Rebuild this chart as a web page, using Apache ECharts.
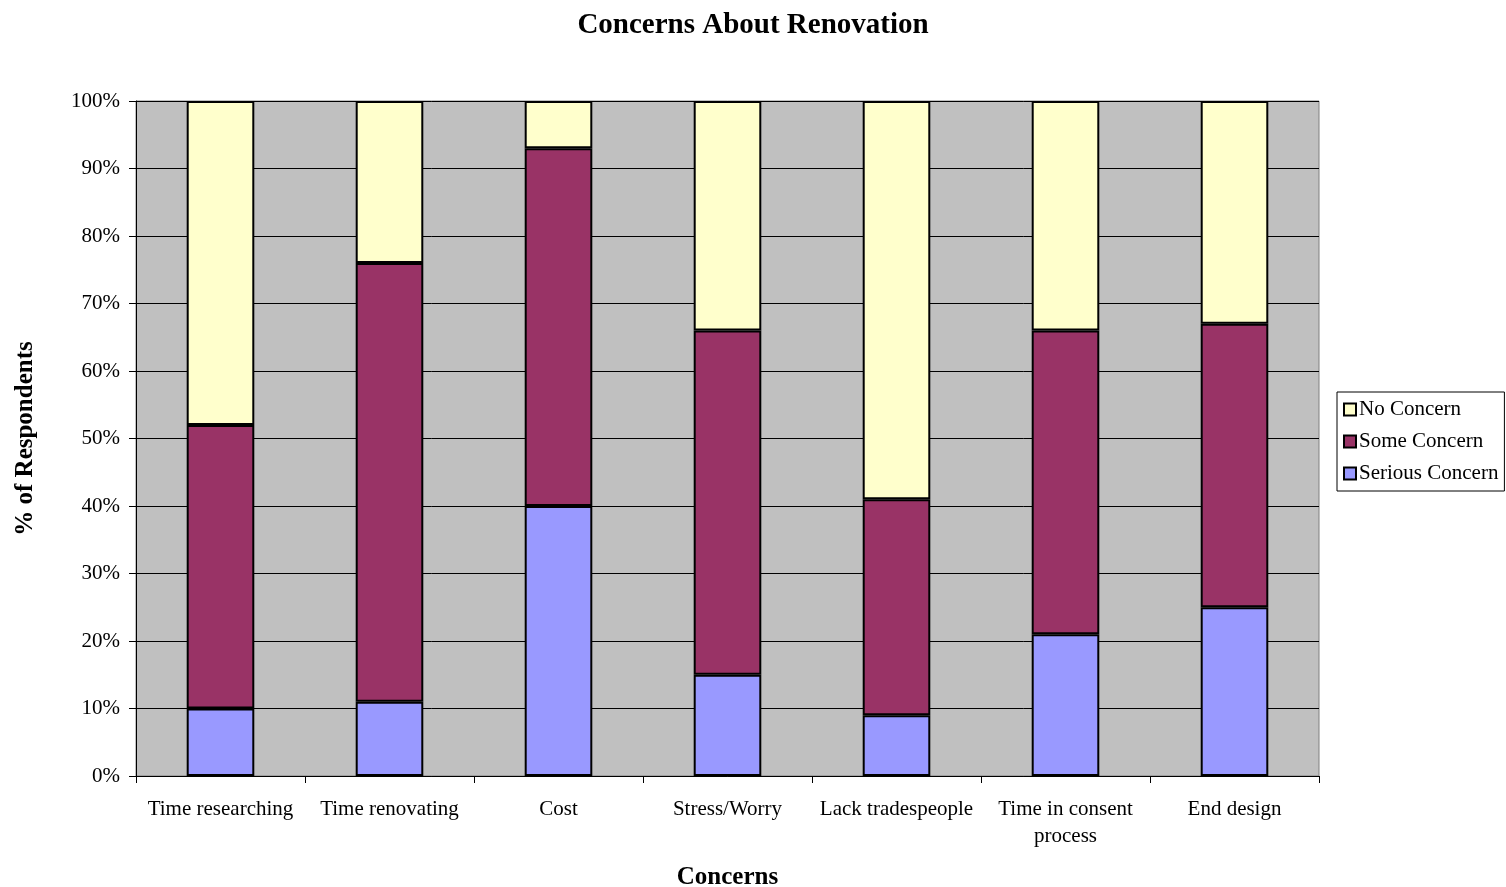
<!DOCTYPE html>
<html><head><meta charset="utf-8">
<script src="https://cdn.jsdelivr.net/npm/echarts@6/dist/echarts.min.js"></script>
<style>html,body{margin:0;padding:0;background:#fff}#c{width:1506px;height:887px}</style>
</head><body><div id="c"></div>
<script>
const categories = ['Time researching','Time renovating','Cost','Stress/Worry','Lack tradespeople','Time in consent\nprocess','End design'];
const seriousConcern = [10, 11, 40, 15, 9, 21, 25];
const someConcern = [42, 65, 53, 51, 32, 45, 42];
const noConcern = [48, 24, 7, 34, 59, 34, 33];
const yTicks = [0,10,20,30,40,50,60,70,80,90,100];

const F = 'Liberation Serif, Times New Roman, serif';
const chart = echarts.init(document.getElementById('c'));
function s(name, data, color){
  return {name, type:'bar', stack:'t', data, barWidth:'40%',
    itemStyle:{color, borderColor:'#000', borderWidth:2}, silent:true};
}
chart.setOption({
  animation:false,
  title:{text:'Concerns About Renovation', left:'center', top:6,
    textStyle:{fontFamily:F, fontSize:29, fontWeight:'bold', color:'#000'}},
  grid:{left:136, right:187, top:101, bottom:111, outerBoundsMode:'none', containLabel:false,
    show:true, backgroundColor:'#C0C0C0', borderColor:'#808080', borderWidth:1},
  legend:{orient:'vertical', left:1337, top:392, itemWidth:12, itemHeight:12, itemGap:11,
    borderColor:'#000', borderWidth:1, padding:[7,6,7,6], borderRadius:0,
    textStyle:{fontFamily:F, fontSize:21, color:'#000', padding:[0,0,0,-2]},
    data:[{name:'No Concern',icon:'rect'},{name:'Some Concern',icon:'rect'},{name:'Serious Concern',icon:'rect'}],
    itemStyle:{borderColor:'#000', borderWidth:2}},
  xAxis:{type:'category', data:categories, name:'Concerns', nameLocation:'middle', nameGap:89,
    nameTextStyle:{fontFamily:F, fontSize:25, fontWeight:'bold', color:'#000'},
    axisLine:{lineStyle:{color:'#000', width:1}},
    axisTick:{show:true, length:7, lineStyle:{color:'#000'}, alignWithLabel:false},
    axisLabel:{fontFamily:F, fontSize:21, color:'#000', margin:20, lineHeight:27, interval:0}},
  yAxis:{type:'value', min:0, max:100, interval:10, name:'% of Respondents', nameLocation:'middle', nameGap:98, nameRotate:90,
    nameTextStyle:{fontFamily:F, fontSize:25, fontWeight:'bold', color:'#000'},
    axisLine:{show:true, lineStyle:{color:'#000'}},
    axisTick:{show:true, length:7, lineStyle:{color:'#000'}},
    splitLine:{show:true, lineStyle:{color:'#000', width:1}},
    axisLabel:{fontFamily:F, fontSize:21, color:'#000', margin:16,
      formatter:v => yTicks.includes(v) ? v + '%' : ''}},
  series:[
    s('Serious Concern', seriousConcern, '#9999FF'),
    s('Some Concern', someConcern, '#993366'),
    s('No Concern', noConcern, '#FFFFCC')
  ]
});
</script></body></html>
